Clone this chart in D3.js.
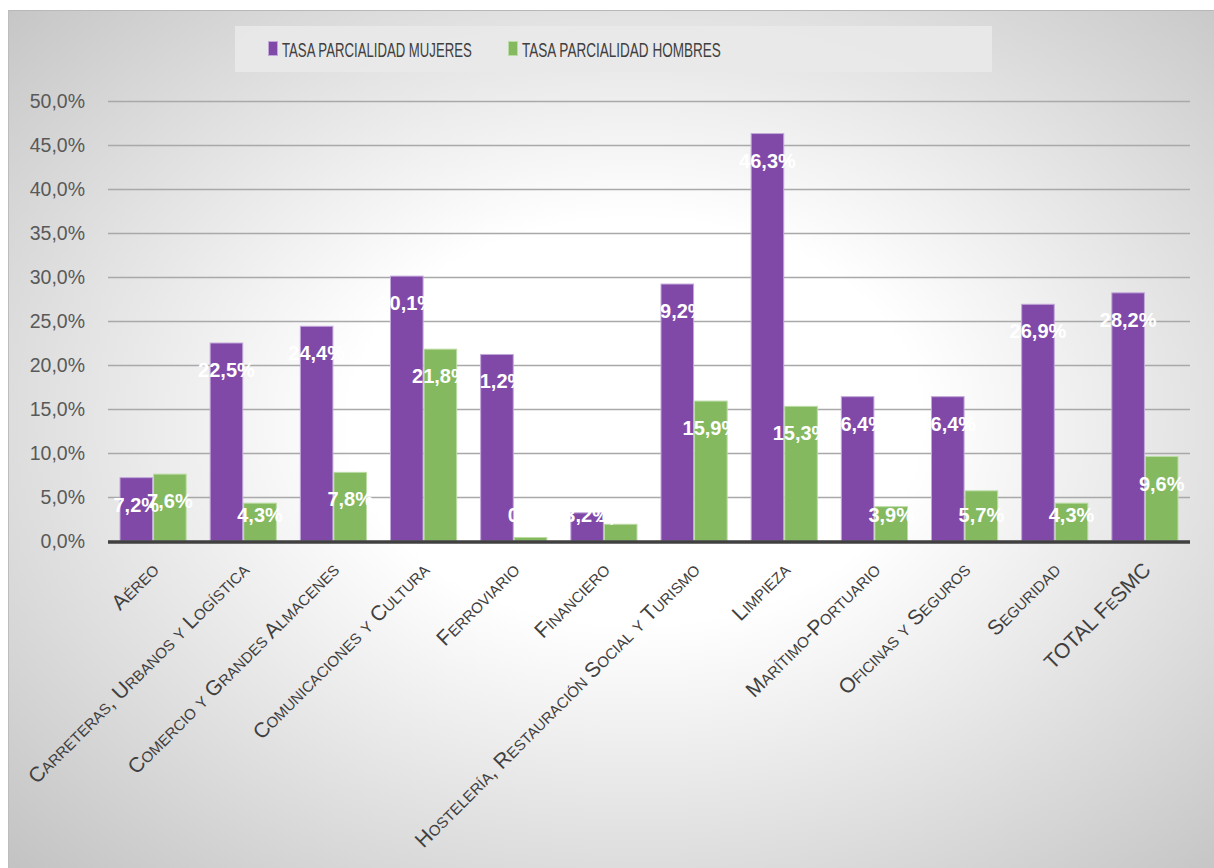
<!DOCTYPE html>
<html>
<head>
<meta charset="utf-8">
<script src="https://cdn.jsdelivr.net/npm/d3@7/dist/d3.min.js"></script>
<style>
  html, body { margin: 0; padding: 0; background: #ffffff; }
  svg { display: block; }
  text { font-family: "Liberation Sans", Arial, sans-serif; }
</style>
</head>
<body>
<svg id="chart" width="1214" height="868"></svg>
<script>
const categories = [
  "Aéreo",
  "Carreteras, Urbanos y Logística",
  "Comercio y Grandes Almacenes",
  "Comunicaciones y Cultura",
  "Ferroviario",
  "Financiero",
  "Hostelería, Restauración Social y Turismo",
  "Limpieza",
  "Marítimo-Portuario",
  "Oficinas y Seguros",
  "Seguridad",
  "TOTAL FeSMC"
];
const mujeres = [7.2, 22.5, 24.4, 30.1, 21.2, 3.2, 29.2, 46.3, 16.4, 16.4, 26.9, 28.2];
const hombres = [7.6, 4.3, 7.8, 21.8, 0.4, 1.9, 15.9, 15.3, 3.9, 5.7, 4.3, 9.6];
const seriesNames = ["TASA PARCIALIDAD MUJERES", "TASA PARCIALIDAD HOMBRES"];
const yTicks = [0, 5, 10, 15, 20, 25, 30, 35, 40, 45, 50];

const colors = ["#8049a8", "#84b960"];
const strokes = ["#c2a8da", "#bcdca6"];

const svg = d3.select("#chart");
const W = 1214, H = 868;

// background
const defs = svg.append("defs");
const grad = defs.append("radialGradient").attr("id", "bg")
  .attr("cx", "52%").attr("cy", "48%").attr("r", "74%");
grad.append("stop").attr("offset", "0").attr("stop-color", "#ffffff");
grad.append("stop").attr("offset", "0.32").attr("stop-color", "#ffffff");
grad.append("stop").attr("offset", "1").attr("stop-color", "#c2c2c2");
svg.append("rect").attr("x", 8).attr("y", 10).attr("width", W - 8).attr("height", H - 10)
  .attr("fill", "url(#bg)");
svg.append("line").attr("x1", 8).attr("x2", W).attr("y1", 10.5).attr("y2", 10.5)
  .attr("stroke", "#b8b8b8").attr("stroke-width", 1);
svg.append("line").attr("x1", 8.5).attr("x2", 8.5).attr("y1", 10).attr("y2", H)
  .attr("stroke", "#bdbdbd").attr("stroke-width", 1);

const x0 = d3.scaleBand().domain(categories).range([108, 1190]).paddingInner(0.255).paddingOuter(0.1275);
const x1 = d3.scaleBand().domain([0, 1]).range([0, x0.bandwidth()]);
const y = d3.scaleLinear().domain([0, 50]).range([541, 101]);

// grid
const g = svg.append("g");
g.selectAll("line.grid").data(yTicks.filter(t => t > 0)).join("line")
  .attr("class", "grid")
  .attr("x1", 108).attr("x2", 1190)
  .attr("y1", d => Math.round(y(d)) + 0.5).attr("y2", d => Math.round(y(d)) + 0.5)
  .attr("stroke", "#a9a9a9").attr("stroke-width", 1.3);

// y axis labels
const yAxis = d3.axisLeft(y).tickValues(yTicks).tickSize(0).tickPadding(0)
  .tickFormat(d => d3.format(".1f")(d).replace(".", ",") + "%");
const ya = svg.append("g").attr("transform", "translate(85,0)").call(yAxis);
ya.select(".domain").remove();
ya.selectAll("text").attr("font-size", 19.5).attr("fill", "#595959")
  .attr("font-family", "'Liberation Sans', Arial, sans-serif");

// bars
const data = categories.map((c, i) => ({ c, vals: [mujeres[i], hombres[i]] }));
const groups = svg.append("g").selectAll("g").data(data).join("g")
  .attr("transform", d => `translate(${x0(d.c)},0)`);
groups.selectAll("rect").data(d => d.vals.map((v, k) => ({ v, k }))).join("rect")
  .attr("x", d => x1(d.k) + 0.5)
  .attr("y", d => y(d.v))
  .attr("width", x1.bandwidth() - 1)
  .attr("height", d => y(0) - y(d.v))
  .attr("fill", d => colors[d.k])
  .attr("stroke", d => strokes[d.k]).attr("stroke-width", 1);

// x axis line
svg.append("line").attr("x1", 108).attr("x2", 1190).attr("y1", y(0) + 1).attr("y2", y(0) + 1)
  .attr("stroke", "#404040").attr("stroke-width", 3.5);

// data labels
groups.selectAll("text.lbl").data(d => d.vals.map((v, k) => ({ v, k }))).join("text")
  .attr("class", "lbl")
  .attr("x", d => x1(d.k) + x1.bandwidth() / 2)
  .attr("y", d => Math.min(y(d.v) + 34, 522))
  .attr("text-anchor", "middle")
  .attr("font-size", 20).attr("font-weight", "bold").attr("fill", "#ffffff")
  .text(d => d3.format(".1f")(d.v).replace(".", ",") + "%");

// category labels
const xa = svg.append("g");
xa.selectAll("text").data(categories).join("text")
  .attr("transform", d => `translate(${x0(d) + x0.step() * 0.37 + 2},${566}) rotate(-45)`)
  .attr("text-anchor", "end")
  .attr("dy", "0.35em")
  .attr("font-size", 21)
  .attr("fill", "#404040")
  .style("font-variant", "small-caps")
  .text(d => d);

// legend
const leg = svg.append("g");
leg.append("rect").attr("x", 235).attr("y", 26).attr("width", 757).attr("height", 46)
  .attr("fill", "#e9e9e9").attr("opacity", 0.9);
const legX = [268, 508];
const legW = [190, 199];
seriesNames.forEach((n, i) => {
  leg.append("rect").attr("x", legX[i] + 0.5).attr("y", 41.5).attr("width", 9).attr("height", 14)
    .attr("fill", colors[i]).attr("stroke", strokes[i]).attr("stroke-width", 1);
  const t = leg.append("text").attr("x", 0).attr("y", 0)
    .attr("font-size", 21).attr("fill", "#404040")
    .style("font-family", "'Liberation Sans Narrow', 'Liberation Sans', Arial, sans-serif")
    .text(n);
  const L = t.node().getComputedTextLength();
  t.attr("transform", `translate(${legX[i] + 14},56.5) scale(${legW[i] / L},1)`);
});
</script>
</body>
</html>
